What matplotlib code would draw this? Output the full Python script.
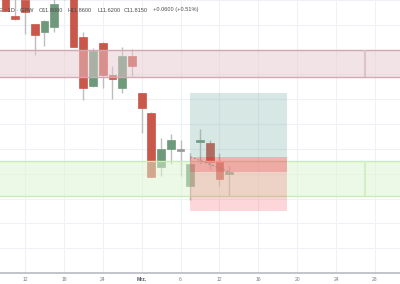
import numpy as np
import matplotlib.pyplot as plt
from matplotlib.patches import Rectangle

# daily candles, bar index 0..23 (bar 6 sits above the visible range)
opens  = [13.22, 13.075, 13.20, 13.004, 12.941, 12.98, 13.35, 13.30, 12.902, 12.51, 12.855, 12.596,
          12.494, 12.745, 12.447, 12.29, 11.851, 12.00, 11.99, 11.702, 12.055, 12.047, 11.898, 11.80]
highs  = [13.28, 13.25, 13.25, 13.01, 13.035, 13.22, 13.45, 13.35, 12.941, 12.816, 12.86, 12.667,
          12.824, 12.808, 12.45, 12.30, 12.085, 12.118, 12.07, 11.969, 12.157, 12.071, 11.969, 11.86]
lows   = [13.11, 13.04, 12.926, 12.753, 12.831, 12.94, 13.20, 12.82, 12.392, 12.50, 12.494, 12.40,
          12.45, 12.588, 12.126, 11.77, 11.78, 11.882, 11.78, 11.592, 11.882, 11.835, 11.702, 11.62]
closes = [13.11, 13.05, 13.106, 12.918, 13.027, 13.17, 13.40, 12.824, 12.494, 12.792, 12.596, 12.565,
          12.745, 12.667, 12.329, 11.773, 12.00, 12.071, 11.99, 11.875, 12.071, 11.898, 11.755, 11.815]

tick_pos = [2, 6, 10, 14, 18, 22, 26, 30, 34, 38]
tick_labels = ['12', '18', '24', 'Mrz.', '6', '12', '16', '20', '24', '28']

# drawn zones (prices)
resist_zone = (12.58, 12.80)
support_zone = (11.618, 11.90)
zone_right = 37
pos_start, pos_end = 19, 29
entry, target, stop = 11.937, 12.447, 11.498

header = [('E : 1D · GPW', -1), ('O11.8000', 39), ('H11.8600', 68), ('L11.6200', 97),
          ('C11.8150', 124), ('+0.0600 (+0.51%)', 153)]

RED = '#c9574a'
GREEN = '#6e9a7b'
WICK = '#bdbdbd'

fig = plt.figure(figsize=(4, 2.84), dpi=100)
ax = fig.add_axes([0, 11 / 284, 1, 273 / 284])

x = np.arange(len(opens))
o = np.array(opens); c = np.array(closes)
h = np.array(highs); l = np.array(lows)
cols = []
for oo, cc in zip(o, c):
    if cc > oo:
        cols.append(GREEN)
    elif cc < oo:
        cols.append(RED)
    else:
        cols.append('#9a9a9a')

ax.vlines(x, l, h, color=WICK, linewidth=1, zorder=2)
body_h = np.maximum(np.abs(c - o), 0.012)
ax.bar(x, body_h, bottom=np.minimum(o, c) - np.where(np.abs(c - o) < 0.012, 0.006, 0), width=0.8,
       color=cols, edgecolor=cols, linewidth=0.5, zorder=3)

# resistance zone (extended right, border at zone_right)
ax.add_patch(Rectangle((-5, resist_zone[0]), 60, resist_zone[1] - resist_zone[0],
                       facecolor='#e5c9cf', alpha=0.5, edgecolor='none', zorder=4))
ax.hlines(resist_zone, -5, 60, color='#d2a9b0', linewidth=1, zorder=4)
ax.vlines(zone_right, *resist_zone, color='#dcc3c8', linewidth=1.5, zorder=4)

# support zone
ax.add_patch(Rectangle((-5, support_zone[0]), 60, support_zone[1] - support_zone[0],
                       facecolor='#ddf5d1', alpha=0.5, edgecolor='none', zorder=4))
ax.hlines(support_zone, -5, 60, color='#c8ecb6', linewidth=1, zorder=4)
ax.vlines(zone_right, *support_zone, color='#d3efc6', linewidth=1.5, zorder=4)

# long position tool
w = pos_end - pos_start
ax.add_patch(Rectangle((pos_start, entry), w, target - entry, facecolor='#6aa89c', alpha=0.27,
                       edgecolor='none', zorder=5))
ax.add_patch(Rectangle((pos_start, stop), w, entry - stop, facecolor='#f23645', alpha=0.2,
                       edgecolor='none', zorder=5))
ax.add_patch(Rectangle((pos_start, closes[-1]), w, entry - closes[-1], facecolor='#f23645', alpha=0.25,
                       edgecolor='none', zorder=5))
ax.plot([pos_start, len(closes) - 1], [entry, closes[-1]], color='#a08a8c', linewidth=0.7,
        linestyle=(0, (2, 2)), zorder=6)

ax.set_xlim(-0.572, 40.58)
ax.set_ylim(11.0196, 13.1608)
ax.set_xticks(tick_pos)
ax.set_xticklabels(tick_labels)
ax.set_yticks(np.arange(11.0, 13.3, 0.2))
ax.set_yticklabels([])
ax.tick_params(axis='both', length=0)
ax.tick_params(axis='x', labelsize=3.6, colors='#787b86', pad=3)
for lab in ax.get_xticklabels():
    lab.set_family('Liberation Sans')
    if lab.get_text() == 'Mrz.':
        lab.set_color('#50535e')
        lab.set_fontweight('bold')
ax.grid(color='#f0f1f6', linewidth=0.8, zorder=0)
ax.set_axisbelow(True)
for s in ['top', 'left', 'right']:
    ax.spines[s].set_visible(False)
ax.spines['bottom'].set_color('#b8bac2')
ax.spines['bottom'].set_linewidth(1.2)

for txt, px in header:
    fig.text(px / 400, 1 - 10 / 284, txt, fontsize=4.1, color='#4a4a4a', family='Liberation Sans',
             va='center', ha='left', zorder=10)

fig.savefig('out.png', dpi=100)
